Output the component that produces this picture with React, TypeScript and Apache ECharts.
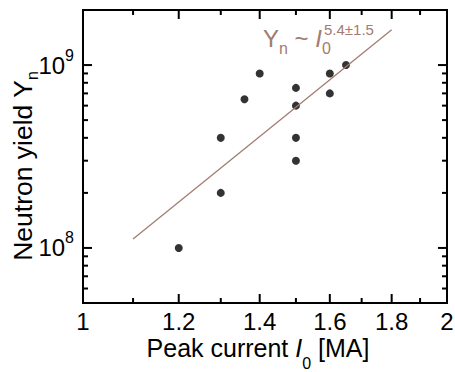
import React, { useEffect, useRef } from "react";
import * as echarts from "echarts";

// Measured points: peak current (MA) and neutron yield
const currentMA = [1.2, 1.3, 1.3, 1.36, 1.4, 1.5, 1.5, 1.5, 1.5, 1.6, 1.6, 1.65];
const neutronYield = [1e8, 2e8, 4e8, 6.5e8, 9e8, 7.5e8, 6e8, 4e8, 3e8, 9e8, 7e8, 1e9];

// Power-law fit line end points
const fitCurrent = [1.1, 1.8];
const fitYield = [1.12e8, 1.56e9];

// Axis ranges and ticks
const X_MIN = 1;
const X_MAX = 2;
const Y_MIN = 5e7;
const Y_MAX = 2e9;
const xMajorTicks = [1, 1.2, 1.4, 1.6, 1.8, 2];
const xMinorTicks = [1.1, 1.3, 1.5, 1.7, 1.9];
const yMajorTicks = [1e8, 1e9];
const yMinorTicks = [6e7, 7e7, 8e7, 9e7, 2e8, 3e8, 4e8, 5e8, 6e8, 7e8, 8e8, 9e8];

const FONT = "Liberation Sans, Arial, Helvetica, sans-serif";
const FIT_COLOR = "#a27c72";

// Inward tick marks, one custom series per side, placed through the axes' own scales
// side: "bottom" | "top" | "left" | "right"
function tickSeries(ticks: number[], len: number, side: string) {
  const isX = side === "bottom" || side === "top";
  const data = isX
    ? ticks.map((v) => [v, side === "bottom" ? Y_MIN : Y_MAX])
    : ticks.map((v) => [side === "left" ? X_MIN : X_MAX, v]);
  return {
    type: "custom",
    data,
    renderItem: (_p: any, api: any) => {
      const c = api.coord([api.value(0), api.value(1)]);
      let shape;
      if (side === "bottom") shape = { x: c[0] - 1, y: c[1] - len, width: 2, height: len };
      else if (side === "top") shape = { x: c[0] - 1, y: c[1], width: 2, height: len };
      else if (side === "left") shape = { x: c[0], y: c[1] - 1, width: len, height: 2 };
      else shape = { x: c[0] - len, y: c[1] - 1, width: len, height: 2 };
      return { type: "rect", shape, style: { fill: "#000" } };
    },
  };
}

export default function App() {
  const ref = useRef<HTMLDivElement>(null);

  useEffect(() => {
    if (!ref.current) return;
    const chart = echarts.init(ref.current, undefined, { renderer: "svg" });
    const scatterData = currentMA.map((x, i) => [x, neutronYield[i]]);
    const fitData = fitCurrent.map((x, i) => [x, fitYield[i]]);
    const MAJ = 9;
    const MIN = 5;

    chart.setOption({
      animation: false,
      grid: {
        left: 83,
        right: 8,
        top: 10,
        bottom: 69,
        outerBoundsMode: "none",
        show: true,
        borderColor: "#000",
        borderWidth: 2,
        backgroundColor: "transparent",
      },
      xAxis: {
        type: "log",
        logBase: 10,
        min: X_MIN,
        max: X_MAX,
        axisLine: { show: true, lineStyle: { color: "#000", width: 2 } },
        axisTick: { show: false },
        splitLine: { show: false },
        axisLabel: {
          customValues: xMajorTicks,
          fontSize: 24,
          color: "#000",
          fontFamily: FONT,
          margin: 6,
          formatter: (v: number) => String(Math.round(v * 10) / 10),
        },
      },
      yAxis: {
        type: "log",
        logBase: 10,
        min: Y_MIN,
        max: Y_MAX,
        axisLine: { show: true, lineStyle: { color: "#000", width: 2 } },
        axisTick: { show: false },
        splitLine: { show: false },
        axisLabel: {
          customValues: yMajorTicks,
          color: "#000",
          fontFamily: FONT,
          margin: 9,
          formatter: (v: number) => `{b|10}{p|${Math.round(Math.log10(v))}}`,
          rich: {
            b: { fontSize: 24, lineHeight: 36, fontFamily: FONT, color: "#000" },
            p: { fontSize: 16, lineHeight: 16, verticalAlign: "top", fontFamily: FONT, color: "#000" },
          },
        },
      },
      graphic: [
        {
          type: "text",
          x: 258,
          y: 335,
          style: {
            text: "{n|Peak current }{i|I}{s|0}{n| [MA]}",
            align: "center",
            verticalAlign: "top",
            rich: {
              n: { fontSize: 25, lineHeight: 26, verticalAlign: "top", fontFamily: FONT, fill: "#000" },
              i: { fontSize: 25, lineHeight: 26, verticalAlign: "top", fontStyle: "italic", fontFamily: FONT, fill: "#000" },
              s: { fontSize: 16, lineHeight: 16, verticalAlign: "top", padding: [20, 0, 0, 0], fontFamily: FONT, fill: "#000" },
            },
          },
        },
        {
          type: "text",
          x: 9,
          y: 166,
          rotation: Math.PI / 2,
          style: {
            text: "{n|Neutron yield Y}{s|n}",
            align: "center",
            verticalAlign: "top",
            rich: {
              n: { fontSize: 26.5, lineHeight: 27, verticalAlign: "top", fontFamily: FONT, fill: "#000" },
              s: { fontSize: 16, lineHeight: 16, verticalAlign: "top", padding: [15, 0, 0, 0], fontFamily: FONT, fill: "#000" },
            },
          },
        },
        {
          type: "text",
          x: 263,
          y: 26,
          style: {
            text: "{m|Y}{s|n}{m| ~ }{i|I}{s|0}",
            verticalAlign: "top",
            rich: {
              m: { fontSize: 24, lineHeight: 25, verticalAlign: "top", fontFamily: FONT, fill: FIT_COLOR },
              i: { fontSize: 24, lineHeight: 25, verticalAlign: "top", fontStyle: "italic", fontFamily: FONT, fill: FIT_COLOR },
              s: { fontSize: 16, lineHeight: 16, verticalAlign: "top", padding: [14, 0, 0, 0], fontFamily: FONT, fill: FIT_COLOR },
            },
          },
        },
        {
          type: "text",
          x: 324,
          y: 22,
          style: { text: "5.4±1.5", fontSize: 15, lineHeight: 15, verticalAlign: "top", fontFamily: FONT, fill: FIT_COLOR },
        },
      ],
      series: [
        tickSeries(xMajorTicks, MAJ, "bottom"),
        tickSeries(xMinorTicks, MIN, "bottom"),
        tickSeries(xMajorTicks, MAJ, "top"),
        tickSeries(xMinorTicks, MIN, "top"),
        tickSeries(yMajorTicks, MAJ, "left"),
        tickSeries(yMinorTicks, MIN, "left"),
        tickSeries(yMajorTicks, MAJ, "right"),
        tickSeries(yMinorTicks, MIN, "right"),
        {
          type: "line",
          data: fitData,
          symbol: "none",
          lineStyle: { color: FIT_COLOR, width: 1.3 },
        },
        {
          type: "scatter",
          data: scatterData,
          symbol: "circle",
          symbolSize: 8,
          itemStyle: { color: "#000" },
        },
      ],
    });
    return () => chart.dispose();
  }, []);

  return <div ref={ref} style={{ width: 455, height: 372, position: "absolute", left: 0, top: 0, background: "#fff" }} />;
}
